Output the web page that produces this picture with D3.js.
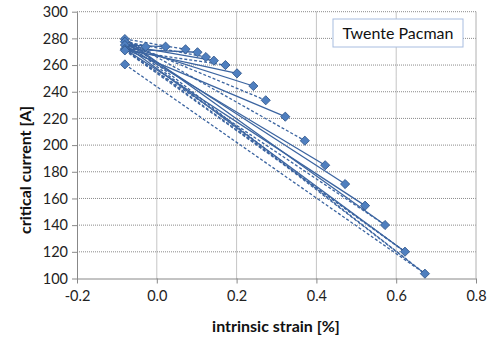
<!DOCTYPE html>
<html><head><meta charset="utf-8">
<script src="https://cdn.jsdelivr.net/npm/d3@7"></script>
<style>body{margin:0;background:#fff;}svg{display:block;}</style>
</head><body>
<svg id="c" width="491" height="340"></svg>
<script>
// Data
const xTicks = [-0.2, 0.0, 0.2, 0.4, 0.6, 0.8];
const yTicks = [100, 120, 140, 160, 180, 200, 220, 240, 260, 280, 300];
const leftPts = [[-0.08, 279.5], [-0.08, 277.5], [-0.08, 275], [-0.08, 272], [-0.08, 271], [-0.08, 260.5]];
const rightPts = [[-0.028, 273.8], [0.022, 273.8], [0.072, 271.8], [0.102, 269.6], [0.123, 266], [0.143, 263.3],
  [0.172, 260], [0.201, 253.8], [0.242, 244.3], [0.273, 233.6], [0.322, 221.3], [0.371, 203.3],
  [0.422, 184.9], [0.472, 170.8], [0.522, 154.6], [0.572, 140.1], [0.622, 120.1], [0.672, 103.6]];
// segments: [left index, right index, dashed]
const segments = [
  [1,0,1],[2,1,0],[0,2,1],[3,3,0],[1,4,1],[2,5,0],[4,6,1],[3,7,0],[2,8,0],[1,9,1],[3,10,0],
  [0,11,1],[2,12,0],[1,13,0],[3,14,0],[0,15,0],[2,16,0],[3,16,1],[4,16,1],[0,17,1],[1,17,1],[5,17,1],[4,15,1]
];

const svg = d3.select("#c");
const x = d3.scaleLinear().domain([-0.2, 0.8]).range([77, 476]);
const y = d3.scaleLinear().domain([100, 300]).range([278.5, 11.7]);
const font = "Lato, 'Open Sans', 'Liberation Sans', sans-serif";

// gridlines
svg.append("g").selectAll("line.h").data(yTicks.filter(d => d > 100)).join("line")
  .attr("x1", x(-0.2)).attr("x2", x(0.8)).attr("y1", d => y(d)).attr("y2", d => y(d))
  .attr("stroke", "#8a8a8a").attr("stroke-width", 1).attr("stroke-dasharray", "1,1");
svg.append("g").selectAll("line.v").data(xTicks.filter(d => d > -0.2 && d < 0.8)).join("line")
  .attr("x1", d => x(d)).attr("x2", d => x(d)).attr("y1", y(100)).attr("y2", y(300))
  .attr("stroke", "#8a8a8a").attr("stroke-width", 1).attr("stroke-dasharray", "1,1");
svg.append("line").attr("x1", x(0.8)).attr("x2", x(0.8)).attr("y1", y(100)).attr("y2", y(300))
  .attr("stroke", "#b0b0b0").attr("stroke-width", 1);

// axes
const fmt = d => d3.format(".1f")(d).replace("\u2212", "-");
const xAxis = svg.append("g").attr("transform", `translate(0,${y(100)})`)
  .call(d3.axisBottom(x).tickValues(xTicks).tickFormat(fmt).tickSize(5).tickSizeOuter(0));
const yAxis = svg.append("g").attr("transform", `translate(${x(-0.2)},0)`)
  .call(d3.axisLeft(y).tickValues(yTicks).tickSize(5).tickSizeOuter(0));
[xAxis, yAxis].forEach(a => {
  a.select(".domain").attr("stroke", "#888");
  a.selectAll(".tick line").attr("stroke", "#888");
  a.selectAll(".tick text").attr("fill", "#222").style("font-family", font).style("font-size", "14.5px");
});
xAxis.selectAll(".tick text").attr("dy", "1.0em");
yAxis.selectAll(".tick text").attr("x", -9);

// segments
svg.append("g").selectAll("line.s").data(segments).join("line")
  .attr("x1", d => x(leftPts[d[0]][0])).attr("y1", d => y(leftPts[d[0]][1]))
  .attr("x2", d => x(rightPts[d[1]][0])).attr("y2", d => y(rightPts[d[1]][1]))
  .attr("stroke", "#3b64a0").attr("stroke-width", 1.3)
  .attr("stroke-dasharray", d => d[2] ? "3,2" : null);

// markers
svg.append("g").selectAll("path.m").data(leftPts.concat(rightPts)).join("path")
  .attr("d", d3.symbol().type(d3.symbolSquare).size(42))
  .attr("transform", d => `translate(${x(d[0])},${y(d[1])}) rotate(45)`)
  .attr("fill", "#4f7fbf").attr("stroke", "#2f5589").attr("stroke-width", 0.8);

// legend box
svg.append("rect").attr("x", 333).attr("y", 19).attr("width", 130).attr("height", 28)
  .attr("fill", "#fff").attr("stroke", "#a8bde0").attr("stroke-width", 1);
svg.append("text").attr("x", 398).attr("y", 39).attr("text-anchor", "middle")
  .style("font-family", font).style("font-size", "16px").attr("fill", "#111").text("Twente Pacman");

// titles
svg.append("text").attr("transform", "translate(276,332)").attr("text-anchor", "middle")
  .style("font-family", font).style("font-size", "16px").style("font-weight", "bold").attr("fill", "#111")
  .text("intrinsic strain [%]");
svg.append("text").attr("transform", "translate(31,170) rotate(-90)").attr("text-anchor", "middle")
  .style("font-family", font).style("font-size", "16px").style("font-weight", "bold").attr("fill", "#111")
  .text("critical current [A]");
</script>
</body></html>
